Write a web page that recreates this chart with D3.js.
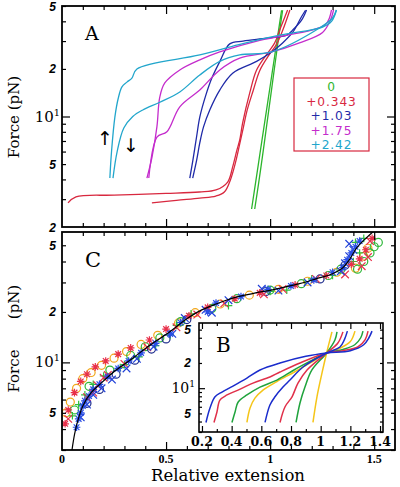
<!DOCTYPE html>
<html><head><meta charset="utf-8">
<script src="https://cdn.jsdelivr.net/npm/d3@7"></script>
<style>body{margin:0;background:#fff}</style>
</head><body>
<script>
// ---------------- DATA ----------------
const extensionDomain = [0, 1.6];
const forceDomainA = [2, 50];
const forceDomainC = [3, 60];
const extensionDomainB = [0.18, 1.42];

const xTickValues = [0, 0.5, 1, 1.5];
const xTickLabels = ["0", "0.5", "1", "1.5"];
const xMajorTicks = [0.5, 1, 1.5];
const xMinorTicks = [0.1,0.2,0.3,0.4,0.6,0.7,0.8,0.9,1.1,1.2,1.3,1.4];
const xBTickValues = [0.2,0.4,0.6,0.8,1,1.2,1.4];
const xBTickLabels = ["0.2","0.4","0.6","0.8","1","1.2","1.4"];
const xBMinorTicks = [0.3,0.5,0.7,0.9,1.1,1.3];
const forceMajorTicks = [10];
const forceMinorTicks = [3,4,5,6,7,8,9,20,30,40,50];
const forceLabelValuesA = [50,20,10,5,2];
const forceLabelValuesC = [50,20,10,5];
const forceLabelTexts = ["5","2","10","5","2"];

// Panel A legend (supercoiling offsets)
const legendLabels = ["0","+0.343","+1.03","+1.75","+2.42"];
const legendColors = ["#2cb52c","#d8283f","#1f2aa8","#c42ccc","#22a6cc"];

// Panel A curves: [relative extension, force pN]
const green0Stretch = [[0.911,2.6],[0.93,3.8],[0.95,5.7],[0.97,8.5],[0.99,12.7],[1.01,19],[1.03,28.4],[1.055,47]];
const green0Relax   = [[0.926,2.6],[0.945,3.8],[0.964,5.7],[0.982,8.5],[1.0,12.7],[1.018,19],[1.036,28.4],[1.06,47]];
const red343Stretch = [[0.029,2.84],[0.067,3.1],[0.25,3.18],[0.5,3.26],[0.66,3.33],[0.74,3.43],[0.796,3.85],[0.82,4.8],[0.84,6.1],[0.854,7.1],[0.868,9.1],[0.902,14.1],[0.935,19.7],[0.988,25.2],[1.022,29.2],[1.046,35.2],[1.084,47.2]];
const red343Relax   = [[0.432,2.84],[0.55,2.95],[0.662,3.05],[0.739,3.14],[0.78,3.33],[0.81,4.0],[0.835,5.2],[0.855,6.8],[0.872,8.6],[0.89,11],[0.918,14.5],[0.95,19.5],[0.995,24.5],[1.03,28.5],[1.06,35],[1.095,47.2]];
const blue103Stretch = [[0.614,4.08],[0.628,5.2],[0.647,7.5],[0.662,9.9],[0.69,13.5],[0.72,17.5],[0.76,22.5],[0.806,28.8],[0.87,30],[0.983,31.3],[1.08,32.7],[1.108,35.2],[1.151,40.7],[1.175,47.2]];
const blue103Relax   = [[0.628,4.08],[0.647,5.3],[0.662,6.8],[0.68,8.6],[0.71,11],[0.758,14.7],[0.82,18.8],[0.935,22.3],[1.007,25.6],[1.06,29.2],[1.108,34],[1.15,42.6],[1.17,47]];
const magenta175Stretch = [[0.408,4.08],[0.432,5.5],[0.456,8.6],[0.47,13.3],[0.494,16.3],[0.566,19.7],[0.662,22.8],[0.758,25.6],[0.95,30.3],[1.2,35.2],[1.265,38],[1.285,42],[1.295,47.2]];
const magenta175Relax   = [[0.417,4.08],[0.456,7.4],[0.504,8.0],[0.566,11.5],[0.662,14.7],[0.758,19.7],[0.854,23.4],[1.007,25.6],[1.141,29.2],[1.252,34],[1.29,40.7],[1.305,47.2]];
const cyan242Stretch = [[0.23,4.08],[0.238,6],[0.254,9.9],[0.27,13],[0.288,15.4],[0.312,16.5],[0.336,17.5],[0.36,20],[0.662,24.5],[0.85,28.5],[1.046,32.7],[1.252,36.8],[1.295,40],[1.319,47.2]];
const cyan242Relax   = [[0.245,4.08],[0.265,6],[0.297,8.45],[0.34,10],[0.388,11],[0.47,12.3],[0.566,14.3],[0.662,18.3],[0.758,22.3],[0.854,24.5],[1.007,25.6],[1.237,36.3],[1.3,42],[1.318,47.2]];

// Panel C: master curve and rescaled data
const theoryC = [[0.048,3],[0.06,3.7],[0.073,4.35],[0.1,5.5],[0.14,6.6],[0.182,7.4],[0.26,9],[0.34,10.6],[0.42,12.6],[0.504,14.8],[0.6,18.2],[0.662,20.3],[0.74,22.3],[0.82,24.2],[0.92,25.8],[1.022,27.3],[1.141,29.5],[1.22,31.5],[1.3,33.8],[1.348,36.6],[1.381,41],[1.415,48],[1.46,55],[1.5,61]];
const greenPlus = [[0.05,4.8],[0.08,5.6],[0.11,6.4],[0.15,7.4],[0.2,8.3],[0.28,9.3],[0.3,9.7],[0.37,10.8],[0.45,12.6],[0.52,14.6],[0.55,16.6],[0.62,19.5],[0.8,21.8],[1.0,26.5],[1.08,27],[1.2,31.5],[1.3,33],[1.4,40],[1.43,45],[1.41,52],[1.45,55]];
const greenCircle = [[0.06,5.2],[0.13,7.2],[0.23,9.0],[0.33,11],[0.4,12.4],[0.47,14],[0.57,17.5],[0.72,21],[0.84,24],[1.0,27],[1.15,29.5],[1.28,33],[1.34,36],[1.42,36],[1.45,40],[1.48,45],[1.5,49],[1.52,52]];
const redCross = [[0.03,4.6],[0.12,6.2],[0.15,6.6],[0.17,7.3],[0.2,8.1],[0.22,8.4],[0.3,9.8],[0.41,12.3],[0.55,16.2],[0.65,19.3],[0.78,22.5],[0.97,25.5],[1.06,27.4],[1.22,31.5],[1.36,33.5],[1.44,37.5],[1.47,42.5],[1.48,53]];
const redStar = [[0.015,4.3],[0.03,5.2],[0.06,6.6],[0.09,7.7],[0.12,8.5],[0.16,9.4],[0.21,10.2],[0.27,11.2],[0.33,12.2],[0.42,13.6],[0.5,15.8],[0.61,19],[0.7,21.3],[0.83,24],[0.95,26],[1.12,29],[1.27,33],[1.39,38.5],[1.43,41.5],[1.46,47],[1.49,55]];
const orangeCircle = [[0.02,5.0],[0.04,5.8],[0.07,7.0],[0.1,8.0],[0.14,8.7],[0.19,9.6],[0.25,10.6],[0.31,11.6],[0.38,12.8],[0.46,14.5],[0.56,17.2],[0.64,19.8],[0.76,22.3],[0.9,25.2],[1.04,27.3],[1.18,30.5],[1.32,34.5],[1.41,36.5],[1.45,43],[1.47,48]];
const blueStar = [[0.07,4.1],[0.08,4.6],[0.09,5.0],[0.1,5.5],[0.11,5.9],[0.13,6.3],[0.15,6.9],[0.18,7.4],[0.22,8.2],[0.27,9.2],[0.32,10.2],[0.38,11.4],[0.45,13],[0.52,14.8],[0.57,17.3],[0.7,20],[0.74,22.6],[0.86,24.7],[0.99,27.3],[1.1,28.6],[1.21,31],[1.3,34.5],[1.35,36.8],[1.37,41],[1.39,45],[1.41,49],[1.43,53]];
const blueCross = [[0.09,4.7],[0.12,5.6],[0.15,6.4],[0.19,7.0],[0.24,7.9],[0.31,9.2],[0.36,10.5],[0.44,12.4],[0.53,14.8],[0.59,18.4],[0.69,20.6],[0.72,19.8],[0.8,23.5],[0.96,27.5],[1.04,26.8],[1.18,30],[1.34,35],[1.36,39],[1.38,43],[1.4,47],[1.38,51]];
const navyCircle = [[0.12,5.7],[0.18,6.9],[0.26,8.5],[0.35,10.3],[0.43,12],[0.5,13.8],[0.6,18],[0.98,26.5],[1.24,31.5],[1.36,38]];

// Panel B curves
const bBlueLow = [[0.227,3.9],[0.254,5.8],[0.288,7.9],[0.335,9],[0.409,10.6],[0.503,13.2],[0.591,16.5],[0.726,20],[0.9,24],[1.04,26.3],[1.2,28],[1.29,33],[1.325,40],[1.346,48]];
const bRedLow = [[0.281,3.9],[0.301,5.2],[0.321,7.2],[0.369,8.3],[0.443,9.5],[0.544,11.5],[0.658,13.6],[0.726,15.6],[0.86,20],[1.04,26.3],[1.15,28],[1.25,31],[1.3,38],[1.319,48]];
const bGreenLow = [[0.402,3.9],[0.423,5.2],[0.443,6.8],[0.503,8.3],[0.591,10.3],[0.705,12.5],[0.82,16.5],[0.93,21],[1.04,26.3],[1.15,29],[1.23,33],[1.27,40],[1.285,48]];
const bYellowLow = [[0.503,3.9],[0.524,5.8],[0.557,7.6],[0.611,9.5],[0.705,12],[0.82,15.5],[0.93,20],[1.04,26.3],[1.13,30],[1.2,36],[1.231,48]];
const bBlueHigh = [[0.625,3.9],[0.658,6.3],[0.692,7.9],[0.746,10.3],[0.793,12.5],[0.881,17.9],[1.04,26.3],[1.13,31],[1.16,38],[1.18,48]];
const bRedHigh = [[0.726,3.9],[0.76,6],[0.807,7.9],[0.847,11.5],[0.908,16.5],[1.04,26.3],[1.116,34.6],[1.15,47]];
const bGreenHigh = [[0.834,3.9],[0.861,6.7],[0.894,10.3],[0.941,16.5],[1.04,26.3],[1.096,37.6],[1.11,47]];
const bYellowHigh = [[0.948,3.9],[0.975,7.9],[1.009,15.2],[1.04,26.3],[1.076,47]];

// ---------------- DRAWING ----------------
const svg = d3.select("body").append("svg").attr("width",400).attr("height",487).style("display","block");
svg.append("rect").attr("width",400).attr("height",487).attr("fill","#fff");

const x = d3.scaleLinear().domain(extensionDomain).range([62,395]);
const yA = d3.scaleLog().domain(forceDomainA).range([227,6]);
const yC = d3.scaleLog().domain(forceDomainC).range([450,232]);
const xB = d3.scaleLinear().domain(extensionDomainB).range([199,383]);
const yB = d3.scaleLog().domain(forceDomainC).range([432,323]);

const defs = svg.append("defs");
function clip(id, xs, ys){
  const [x0,x1]=xs.range(), [y0,y1]=ys.range();
  defs.append("clipPath").attr("id",id).append("rect").attr("x",x0).attr("y",y1).attr("width",x1-x0).attr("height",y0-y1);
}
clip("clipA", x, yA); clip("clipC", x, yC); clip("clipB", xB, yB);

function frame(xs, ys, xMaj, xMin, yMaj, yMin, LM, Lm, sw){
  const [x0,x1]=xs.range(), [y0,y1]=ys.range();
  const g = svg.append("g");
  const add = (axis, tx, ty) => {
    const a = g.append("g").attr("transform",`translate(${tx},${ty})`).call(axis);
    a.select(".domain").remove();
    a.selectAll("line").attr("stroke","#000").attr("stroke-width",1.2);
    a.selectAll("text").remove();
  };
  add(d3.axisBottom(xs).tickValues(xMaj).tickSize(-LM), 0, y0);
  add(d3.axisBottom(xs).tickValues(xMin).tickSize(-Lm), 0, y0);
  add(d3.axisTop(xs).tickValues(xMaj).tickSize(-LM), 0, y1);
  add(d3.axisTop(xs).tickValues(xMin).tickSize(-Lm), 0, y1);
  add(d3.axisLeft(ys).tickValues(yMaj).tickSize(-LM), x0, 0);
  add(d3.axisLeft(ys).tickValues(yMin).tickSize(-Lm), x0, 0);
  add(d3.axisRight(ys).tickValues(yMaj).tickSize(-LM), x1, 0);
  add(d3.axisRight(ys).tickValues(yMin).tickSize(-Lm), x1, 0);
  g.append("rect").attr("x",x0).attr("y",y1).attr("width",x1-x0).attr("height",y0-y1)
    .attr("fill","none").attr("stroke","#000").attr("stroke-width",sw);
}

function yLabels(ys, vals, xEnd, bigSize, smallSize){
  vals.forEach(v => {
    const idx = forceLabelValuesA.indexOf(v);
    const txt = forceLabelTexts[idx];
    if (v === 10) {
      const t = svg.append("text").attr("x",xEnd).attr("y",ys(v)+5)
        .attr("text-anchor","end").attr("font-family","DejaVu Serif").attr("font-size",bigSize).attr("fill","#000");
      t.append("tspan").text(txt);
      t.append("tspan").attr("dy",-6).attr("font-size",bigSize*0.65).text("1");
    } else {
      svg.append("text").attr("x",xEnd-4).attr("y",ys(v)+4.5)
        .attr("text-anchor","end").attr("font-family","Liberation Sans").attr("font-style","italic")
        .attr("font-weight","bold").attr("font-size",smallSize).attr("fill","#000").text(txt);
    }
  });
}

const line = (xs, ys) => d3.line().x(d=>xs(d[0])).y(d=>ys(d[1])).curve(d3.curveCatmullRom.alpha(0.5));

// ---- Panel A ----
const seriesA = [
  [green0Stretch, green0Relax],
  [red343Stretch, red343Relax],
  [blue103Stretch, blue103Relax],
  [magenta175Stretch, magenta175Relax],
  [cyan242Stretch, cyan242Relax]
];
const gA = svg.append("g").attr("clip-path","url(#clipA)");
seriesA.forEach((branches,i) => branches.forEach(b => {
  gA.append("path").attr("d", line(x,yA)(b)).attr("fill","none")
    .attr("stroke", legendColors[i]).attr("stroke-width",1.3);
}));
frame(x, yA, xMajorTicks, xMinorTicks, forceMajorTicks, forceMinorTicks, 8, 4, 1.8);
yLabels(yA, forceLabelValuesA, 60, 15, 12);

svg.append("text").attr("x",85).attr("y",40).attr("font-family","DejaVu Serif").attr("font-size",19).text("A");
svg.append("text").attr("x",105).attr("y",145).attr("text-anchor","middle").attr("font-family","DejaVu Sans").attr("font-size",19).text("\u2191");
svg.append("text").attr("x",131).attr("y",152).attr("text-anchor","middle").attr("font-family","DejaVu Sans").attr("font-size",19).text("\u2193");

// legend
svg.append("rect").attr("x",294).attr("y",78).attr("width",75).attr("height",73)
  .attr("fill","#fff").attr("stroke","#d8283f").attr("stroke-width",1.2);
legendLabels.forEach((l,i) => {
  svg.append("text").attr("x",331.5).attr("y",91+i*14.5).attr("text-anchor","middle")
    .attr("font-family","DejaVu Sans").attr("font-size",12.2).attr("letter-spacing",0.9)
    .attr("fill",legendColors[i]).text(l);
});

// axis title A
svg.append("text").attr("transform","translate(19,117) rotate(-90)").attr("text-anchor","middle")
  .attr("font-family","DejaVu Serif").attr("font-size",15).text("Force (pN)");

// ---- Panel C ----
const gC = svg.append("g").attr("clip-path","url(#clipC)");
const S = 3.8;
const shapes = {
  plus: `M${-S},0H${S}M0,${-S}V${S}`,
  cross: `M${-S},${-S}L${S},${S}M${-S},${S}L${S},${-S}`,
  star: `M${-S},0H${S}M0,${-S}V${S}M${-S*0.75},${-S*0.75}L${S*0.75},${S*0.75}M${-S*0.75},${S*0.75}L${S*0.75},${-S*0.75}`,
  circle: d3.symbol().type(d3.symbolCircle).size(50)()
};
const seriesC = [
  {data: orangeCircle, shape:"circle", color:"#f2a71b"},
  {data: greenCircle, shape:"circle", color:"#2fb83a"},
  {data: navyCircle, shape:"circle", color:"#1c2a8c"},
  {data: greenPlus, shape:"plus", color:"#2fc03a"},
  {data: redCross, shape:"cross", color:"#e8304a"},
  {data: blueCross, shape:"cross", color:"#2040d8"},
  {data: redStar, shape:"star", color:"#e8304a"},
  {data: blueStar, shape:"star", color:"#2a4ee6"}
];
seriesC.forEach(s => {
  gC.selectAll(null).data(s.data).enter().append("path")
    .attr("transform", d => `translate(${x(d[0])},${yC(d[1])})`)
    .attr("d", shapes[s.shape]).attr("fill","none").attr("stroke", s.color).attr("stroke-width",1.2);
});
gC.append("path").attr("d", line(x,yC)(theoryC)).attr("fill","none").attr("stroke","#000").attr("stroke-width",1.2);
frame(x, yC, xMajorTicks, xMinorTicks, forceMajorTicks, forceMinorTicks, 8, 4, 1.8);
yLabels(yC, forceLabelValuesC, 60, 15, 12);
xTickValues.forEach((v,i) => {
  svg.append("text").attr("x",x(v)).attr("y",463).attr("text-anchor","middle")
    .attr("font-family","Liberation Serif").attr("font-weight","bold").attr("font-size",12).text(xTickLabels[i]);
});
svg.append("text").attr("x",85).attr("y",267).attr("font-family","DejaVu Serif").attr("font-size",21).text("C");
svg.append("text").attr("transform","translate(19,302) rotate(-90)").attr("text-anchor","middle")
  .attr("font-family","DejaVu Serif").attr("font-size",15).text("(pN)");
svg.append("text").attr("transform","translate(19,371) rotate(-90)").attr("text-anchor","middle")
  .attr("font-family","DejaVu Serif").attr("font-size",15).text("Force");
svg.append("text").attr("x",228).attr("y",481).attr("text-anchor","middle")
  .attr("font-family","DejaVu Serif").attr("font-size",16.5).text("Relative extension");

// ---- Panel B (inset) ----
svg.append("rect").attr("x",199).attr("y",323).attr("width",184).attr("height",109).attr("fill","#fff");
const gB = svg.append("g").attr("clip-path","url(#clipB)");
const seriesB = [
  [bYellowLow, "#f5c518"], [bYellowHigh, "#f5c518"],
  [bGreenLow, "#1fa33c"], [bGreenHigh, "#1fa33c"],
  [bRedLow, "#e0304a"], [bRedHigh, "#e0304a"],
  [bBlueLow, "#1a2ccc"], [bBlueHigh, "#1a2ccc"]
];
seriesB.forEach(([d,c]) => {
  gB.append("path").attr("d", line(xB,yB)(d)).attr("fill","none").attr("stroke",c).attr("stroke-width",1.5);
});
frame(xB, yB, xBTickValues, xBMinorTicks, forceMajorTicks, forceMinorTicks, 6, 3, 1.6);
yLabels(yB, forceLabelValuesC, 195, 14, 12);
xBTickValues.forEach((v,i) => {
  svg.append("text").attr("x",xB(v)).attr("y",446).attr("text-anchor","middle")
    .attr("font-family","DejaVu Serif").attr("font-weight","bold").attr("font-size",12.5).text(xBTickLabels[i]);
});
svg.append("text").attr("x",216).attr("y",352).attr("font-family","DejaVu Serif").attr("font-size",20).text("B");
</script></body></html>
